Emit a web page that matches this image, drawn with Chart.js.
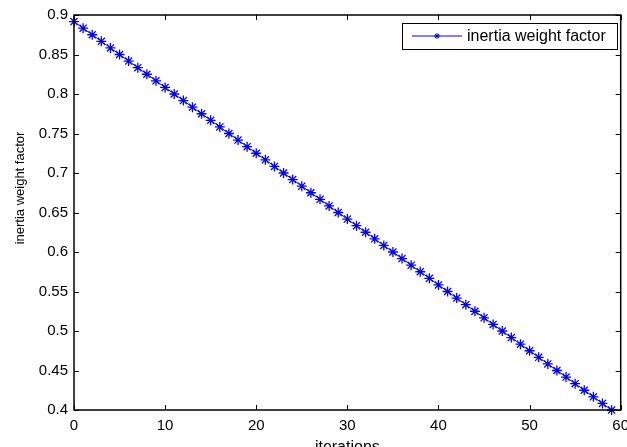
<!DOCTYPE html>
<html>
<head>
<meta charset="utf-8">
<title>inertia weight factor</title>
<script src="https://cdn.jsdelivr.net/npm/chart.js@4.4.0/dist/chart.umd.min.js"></script>
<style>
  body { margin: 0; background: #fff; overflow: hidden; }
  canvas { display: block; }
</style>
</head>
<body>
<canvas id="chart" width="627" height="447"></canvas>
<script>
// Données
const iterations = [
  0, 1, 2, 3, 4, 5, 6, 7, 8, 9,
  10, 11, 12, 13, 14, 15, 16, 17, 18, 19,
  20, 21, 22, 23, 24, 25, 26, 27, 28, 29,
  30, 31, 32, 33, 34, 35, 36, 37, 38, 39,
  40, 41, 42, 43, 44, 45, 46, 47, 48, 49,
  50, 51, 52, 53, 54, 55, 56, 57, 58, 59
];
const weights = [
  0.8917, 0.8833, 0.875, 0.8667, 0.8583, 0.85, 0.8417, 0.8333, 0.825, 0.8167,
  0.8083, 0.8, 0.7917, 0.7833, 0.775, 0.7667, 0.7583, 0.75, 0.7417, 0.7333,
  0.725, 0.7167, 0.7083, 0.7, 0.6917, 0.6833, 0.675, 0.6667, 0.6583, 0.65,
  0.6417, 0.6333, 0.625, 0.6167, 0.6083, 0.6, 0.5917, 0.5833, 0.575, 0.5667,
  0.5583, 0.55, 0.5417, 0.5333, 0.525, 0.5167, 0.5083, 0.5, 0.4917, 0.4833,
  0.475, 0.4667, 0.4583, 0.45, 0.4417, 0.4333, 0.425, 0.4167, 0.4083, 0.4
];
const xTicks = [0, 10, 20, 30, 40, 50, 60];
const yTicks = [0.4, 0.45, 0.5, 0.55, 0.6, 0.65, 0.7, 0.75, 0.8, 0.85, 0.9];
const yTickLabels = ['0.4', '0.45', '0.5', '0.55', '0.6', '0.65', '0.7', '0.75', '0.8', '0.85', '0.9'];
const seriesName = 'inertia weight factor';
const xTitle = 'iterations';
const yTitle = 'inertia weight factor';

const FONT = '"Liberation Sans", Arial, sans-serif';
const BLUE = '#0000ff';

// Étoile à 8 branches (marqueur '*')
function drawStar(ctx, x, y, r) {
  const d = r * Math.SQRT1_2;
  ctx.beginPath();
  ctx.moveTo(x - r, y); ctx.lineTo(x + r, y);
  ctx.moveTo(x, y - r); ctx.lineTo(x, y + r);
  ctx.moveTo(x - d, y - d); ctx.lineTo(x + d, y + d);
  ctx.moveTo(x - d, y + d); ctx.lineTo(x + d, y - d);
  ctx.stroke();
}

// Cadre, graduations internes, titres et légende façon MATLAB
const matlabFrame = {
  id: 'matlabFrame',
  afterDraw(chart) {
    const { ctx, chartArea: a, scales } = chart;
    ctx.save();

    ctx.strokeStyle = '#000';
    ctx.lineWidth = 1;
    const tl = 5;
    xTicks.forEach((v) => {
      const px = Math.round(scales.x.getPixelForValue(v)) + 0.5;
      ctx.beginPath();
      ctx.moveTo(px, a.bottom); ctx.lineTo(px, a.bottom - tl);
      ctx.moveTo(px, a.top); ctx.lineTo(px, a.top + tl);
      ctx.stroke();
    });
    yTicks.forEach((v) => {
      const py = Math.round(scales.y.getPixelForValue(v)) + 0.5;
      ctx.beginPath();
      ctx.moveTo(a.left, py); ctx.lineTo(a.left + tl, py);
      ctx.moveTo(a.right, py); ctx.lineTo(a.right - tl, py);
      ctx.stroke();
    });

    ctx.lineWidth = 1.5;
    ctx.strokeRect(a.left, a.top, a.right - a.left, a.bottom - a.top);

    // Titres des axes
    ctx.fillStyle = '#000';
    ctx.font = '16px ' + FONT;
    ctx.textAlign = 'center';
    ctx.textBaseline = 'alphabetic';
    ctx.fillText(xTitle, (a.left + a.right) / 2, 452);

    ctx.save();
    ctx.translate(20, 188);
    ctx.rotate(-Math.PI / 2);
    ctx.font = '13px ' + FONT;
    ctx.textBaseline = 'middle';
    ctx.fillText(yTitle, 0, 0);
    ctx.restore();

    // Légende
    const lx = 402, ly = 23, lw = 215, lh = 26;
    ctx.fillStyle = '#fff';
    ctx.fillRect(lx, ly, lw, lh);
    ctx.lineWidth = 1;
    ctx.strokeStyle = '#000';
    ctx.strokeRect(lx + 0.5, ly + 0.5, lw, lh);
    const cy = ly + 13;
    ctx.strokeStyle = BLUE;
    ctx.beginPath();
    ctx.moveTo(412, cy); ctx.lineTo(462, cy);
    ctx.stroke();
    drawStar(ctx, 437, cy, 3);
    ctx.fillStyle = '#000';
    ctx.font = '16px ' + FONT;
    ctx.textAlign = 'left';
    ctx.textBaseline = 'middle';
    ctx.fillText(seriesName, 467, cy + 1);

    ctx.restore();
  }
};

const ctx = document.getElementById('chart').getContext('2d');

new Chart(ctx, {
  type: 'line',
  data: {
    datasets: [{
      label: seriesName,
      data: iterations.map((it, i) => ({ x: it, y: weights[i] })),
      borderColor: BLUE,
      backgroundColor: BLUE,
      borderWidth: 1,
      pointStyle: 'star',
      pointRadius: 5,
      pointBorderWidth: 1.3,
      pointBorderColor: BLUE,
      pointHoverRadius: 5,
      tension: 0,
      clip: false,
    }],
  },
  options: {
    responsive: false,
    animation: false,
    layout: { padding: { left: 0, top: 15, right: 4, bottom: 0 } },
    plugins: {
      legend: { display: false },
      tooltip: { enabled: false },
    },
    scales: {
      x: {
        type: 'linear',
        min: 0,
        max: 60,
        afterBuildTicks: (scale) => { scale.ticks = xTicks.map((v) => ({ value: v })); },
        afterFit: (scale) => { scale.height = 37; scale.paddingLeft = 0; scale.paddingRight = 0; },
        grid: { display: false, drawTicks: false },
        border: { display: false },
        ticks: {
          padding: 7,
          maxRotation: 0,
          autoSkip: false,
          color: '#000',
          font: { family: FONT, size: 15 },
        },
      },
      y: {
        type: 'linear',
        min: 0.4,
        max: 0.9,
        afterBuildTicks: (scale) => { scale.ticks = yTicks.map((v) => ({ value: v })); },
        afterFit: (scale) => { scale.width = 74; scale.paddingTop = 0; scale.paddingBottom = 0; },
        grid: { display: false, drawTicks: false },
        border: { display: false },
        ticks: {
          padding: 6,
          autoSkip: false,
          color: '#000',
          font: { family: FONT, size: 15 },
          callback: (value, index) => yTickLabels[index],
        },
      },
    },
  },
  plugins: [matlabFrame],
});
</script>
</body>
</html>
